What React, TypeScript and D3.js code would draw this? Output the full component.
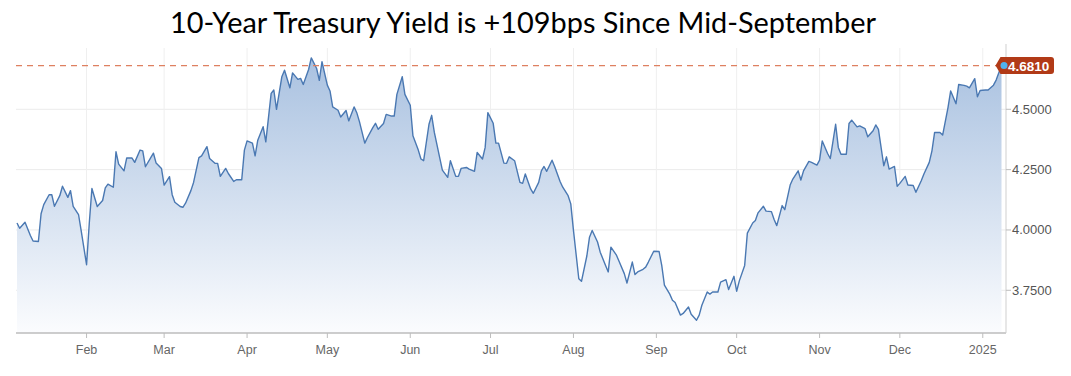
import React from "react";
import * as d3 from "d3";

const dates: string[] = [
  "2024-01-06","2024-01-07","2024-01-09","2024-01-11","2024-01-12","2024-01-14","2024-01-15","2024-01-16","2024-01-18","2024-01-19",
  "2024-01-20","2024-01-22","2024-01-23","2024-01-25","2024-01-26","2024-01-27","2024-01-29","2024-01-30","2024-02-01","2024-02-02",
  "2024-02-03","2024-02-05","2024-02-07","2024-02-08","2024-02-09","2024-02-11","2024-02-12","2024-02-13","2024-02-15","2024-02-16",
  "2024-02-18","2024-02-19","2024-02-21","2024-02-22","2024-02-23","2024-02-25","2024-02-26","2024-02-27","2024-02-29","2024-03-01",
  "2024-03-03","2024-03-04","2024-03-05","2024-03-07","2024-03-08","2024-03-09","2024-03-11","2024-03-12","2024-03-14","2024-03-15",
  "2024-03-17","2024-03-18","2024-03-20","2024-03-21","2024-03-22","2024-03-24","2024-03-25","2024-03-27","2024-03-28","2024-03-30",
  "2024-03-31","2024-04-01","2024-04-03","2024-04-04","2024-04-05","2024-04-07","2024-04-08","2024-04-10","2024-04-11","2024-04-12",
  "2024-04-14","2024-04-15","2024-04-17","2024-04-18","2024-04-20","2024-04-21","2024-04-22","2024-04-24","2024-04-25","2024-04-27",
  "2024-04-28","2024-04-29","2024-05-01","2024-05-02","2024-05-03","2024-05-05","2024-05-06","2024-05-08","2024-05-09","2024-05-11",
  "2024-05-12","2024-05-13","2024-05-15","2024-05-16","2024-05-18","2024-05-19","2024-05-20","2024-05-22","2024-05-23","2024-05-25",
  "2024-05-26","2024-05-27","2024-05-29","2024-05-30","2024-06-01","2024-06-02","2024-06-04","2024-06-05","2024-06-06","2024-06-08",
  "2024-06-09","2024-06-10","2024-06-12","2024-06-13","2024-06-15","2024-06-16","2024-06-18","2024-06-19","2024-06-20","2024-06-22",
  "2024-06-23","2024-06-25","2024-06-26","2024-06-28","2024-06-29","2024-06-30","2024-07-02","2024-07-03","2024-07-04","2024-07-06",
  "2024-07-07","2024-07-08","2024-07-10","2024-07-12","2024-07-13","2024-07-14","2024-07-16","2024-07-17","2024-07-19","2024-07-20",
  "2024-07-21","2024-07-22","2024-07-24","2024-07-25","2024-07-27","2024-07-28","2024-07-30","2024-07-31","2024-08-01","2024-08-03",
  "2024-08-04","2024-08-06","2024-08-07","2024-08-08","2024-08-10","2024-08-11","2024-08-13","2024-08-14","2024-08-15","2024-08-17",
  "2024-08-18","2024-08-20","2024-08-21","2024-08-23","2024-08-24","2024-08-25","2024-08-27","2024-08-28","2024-08-29","2024-08-31",
  "2024-09-02","2024-09-03","2024-09-04","2024-09-06","2024-09-07","2024-09-08","2024-09-10","2024-09-11","2024-09-13","2024-09-14",
  "2024-09-16","2024-09-17","2024-09-18","2024-09-20","2024-09-21","2024-09-22","2024-09-24","2024-09-25","2024-09-27","2024-09-28",
  "2024-09-30","2024-10-01","2024-10-02","2024-10-04","2024-10-05","2024-10-07","2024-10-08","2024-10-09","2024-10-11","2024-10-12",
  "2024-10-14","2024-10-15","2024-10-16","2024-10-18","2024-10-19","2024-10-21","2024-10-22","2024-10-24","2024-10-25","2024-10-26",
  "2024-10-28","2024-10-29","2024-10-31","2024-11-01","2024-11-02","2024-11-04","2024-11-05","2024-11-07","2024-11-08","2024-11-09",
  "2024-11-11","2024-11-12","2024-11-13","2024-11-15","2024-11-16","2024-11-18","2024-11-19","2024-11-21","2024-11-22","2024-11-23",
  "2024-11-25","2024-11-26","2024-11-27","2024-11-29","2024-11-30","2024-12-01","2024-12-03","2024-12-04","2024-12-06","2024-12-07",
  "2024-12-09","2024-12-10","2024-12-12","2024-12-13","2024-12-14","2024-12-16","2024-12-17","2024-12-19","2024-12-20","2024-12-22",
  "2024-12-23","2024-12-25","2024-12-26","2024-12-27","2024-12-29","2024-12-30","2024-12-31","2025-01-02","2025-01-03","2025-01-05",
  "2025-01-06","2025-01-08",
];

const yields: number[] = [
  4.029,4.007,4.032,3.977,3.954,3.952,4.067,4.105,4.146,4.146,
  4.098,4.142,4.181,4.135,4.163,4.098,4.064,3.996,3.856,4.025,
  4.172,4.097,4.122,4.174,4.19,4.177,4.324,4.273,4.245,4.298,
  4.298,4.28,4.331,4.328,4.262,4.3,4.318,4.277,4.255,4.186,
  4.221,4.146,4.115,4.097,4.094,4.111,4.163,4.197,4.3,4.307,
  4.345,4.296,4.276,4.276,4.222,4.255,4.234,4.201,4.208,4.208,
  4.331,4.369,4.36,4.307,4.372,4.428,4.365,4.566,4.58,4.5,
  4.635,4.662,4.589,4.651,4.624,4.628,4.603,4.665,4.713,4.669,
  4.62,4.697,4.6,4.576,4.51,4.496,4.468,4.495,4.452,4.51,
  4.486,4.449,4.36,4.383,4.424,4.442,4.417,4.441,4.479,4.472,
  4.472,4.562,4.635,4.562,4.517,4.39,4.331,4.294,4.287,4.438,
  4.475,4.404,4.3,4.248,4.218,4.287,4.222,4.222,4.255,4.259,
  4.252,4.243,4.321,4.294,4.342,4.486,4.442,4.36,4.36,4.277,
  4.276,4.303,4.287,4.197,4.193,4.232,4.17,4.152,4.197,4.245,
  4.263,4.243,4.289,4.262,4.201,4.177,4.142,4.108,3.998,3.798,
  3.787,3.892,3.97,3.998,3.95,3.908,3.853,3.826,3.929,3.897,
  3.871,3.819,3.78,3.867,3.815,3.826,3.837,3.846,3.867,3.912,
  3.911,3.853,3.771,3.734,3.709,3.699,3.647,3.654,3.681,3.651,
  3.626,3.647,3.688,3.743,3.734,3.743,3.743,3.784,3.794,3.753,
  3.808,3.746,3.789,3.853,3.987,4.029,4.039,4.071,4.098,4.078,
  4.076,4.043,4.018,4.101,4.084,4.186,4.211,4.245,4.207,4.245,
  4.284,4.28,4.269,4.289,4.369,4.317,4.296,4.438,4.342,4.314,
  4.314,4.441,4.455,4.427,4.431,4.42,4.386,4.411,4.435,4.417,
  4.266,4.303,4.252,4.263,4.181,4.193,4.222,4.186,4.184,4.156,
  4.204,4.232,4.28,4.328,4.404,4.404,4.393,4.507,4.576,4.523,
  4.603,4.599,4.596,4.589,4.627,4.552,4.578,4.58,4.58,4.6,
  4.621,4.681,
];

const yTicks: number[] = [3.75, 4.0, 4.25, 4.5];
const monthTicks: string[] = ["2024-02-01","2024-03-01","2024-04-01","2024-05-01","2024-06-01","2024-07-01","2024-08-01","2024-09-01","2024-10-01","2024-11-01","2024-12-01","2025-01-01"];
const monthLabels: string[] = ["Feb","Mar","Apr","May","Jun","Jul","Aug","Sep","Oct","Nov","Dec","2025"];
const title = "10-Year Treasury Yield is +109bps Since Mid-September";
const lastLabel = "4.6810";

const W = 1071, H = 376;
const plotLeft = 16, plotRight = 1006, plotTop = 48, plotBottom = 333;

export default function App() {
  const data = dates.map((d, i) => ({ date: new Date(d + "T00:00:00Z"), value: yields[i] }));
  const x = d3.scaleUtc()
    .domain([data[0].date, data[data.length - 1].date])
    .range([17, 1001.5]);
  const y = d3.scaleLinear().domain([3.573, 4.754]).range([plotBottom, plotTop]);

  const line = d3.line<{ date: Date; value: number }>()
    .x((d) => x(d.date))
    .y((d) => y(d.value));
  const area = d3.area<{ date: Date; value: number }>()
    .x((d) => x(d.date))
    .y0(plotBottom)
    .y1((d) => y(d.value));

  const last = data[data.length - 1];
  const lx = x(last.date);
  const ly = y(last.value);
  const font = "'Liberation Sans', Arial, sans-serif";

  return (
    <svg width={W} height={H} style={{ position: "absolute", left: 0, top: 0, background: "#fff" }}>
      <defs>
        <linearGradient id="fillGrad" gradientUnits="userSpaceOnUse" x1="0" y1={plotTop} x2="0" y2={plotBottom}>
          <stop offset="0" stopColor="#a6bfdf" />
          <stop offset="1" stopColor="#fbfcfe" />
        </linearGradient>
      </defs>
      <text x={523} y={33} textAnchor="middle" fontFamily="Lato, 'Noto Sans', sans-serif" fontSize={29}
        fill="#000" textLength={706} lengthAdjust="spacingAndGlyphs">{title}</text>

      {/* grid */}
      {yTicks.map((t) => (
        <line key={"gy" + t} x1={plotLeft} x2={plotRight} y1={y(t)} y2={y(t)} stroke="#ebebeb" strokeWidth={1} />
      ))}
      {monthTicks.map((m) => {
        const xx = x(new Date(m + "T00:00:00Z"));
        return <line key={"gx" + m} x1={xx} x2={xx} y1={plotTop} y2={plotBottom} stroke="#efefef" strokeWidth={1} />;
      })}

      <path d={area(data) || ""} fill="url(#fillGrad)" />
      <path d={line(data) || ""} fill="none" stroke="#4a78b2" strokeWidth={1.4} strokeLinejoin="round" />

      {/* dashed last-value line */}
      <line x1={plotLeft} x2={lx - 2} y1={ly} y2={ly} stroke="#de8060" strokeWidth={1.4} strokeDasharray="6,5" />

      {/* axes */}
      <line x1={plotLeft} x2={plotRight} y1={plotBottom} y2={plotBottom} stroke="#bdbdbd" strokeWidth={1.5} />
      <line x1={plotRight} x2={plotRight} y1={plotTop - 4} y2={plotBottom} stroke="#cfcfcf" strokeWidth={1} />
      {monthTicks.map((m, i) => {
        const xx = x(new Date(m + "T00:00:00Z"));
        return (
          <g key={"xt" + m}>
            <line x1={xx} x2={xx} y1={plotBottom} y2={plotBottom + 5} stroke="#bdbdbd" strokeWidth={1} />
            <text x={xx} y={354} textAnchor="middle" fontFamily={font} fontSize={12.5} fill="#666">{monthLabels[i]}</text>
          </g>
        );
      })}
      {yTicks.map((t) => (
        <g key={"yt" + t}>
          <line x1={plotRight} x2={plotRight + 5} y1={y(t)} y2={y(t)} stroke="#bdbdbd" strokeWidth={1} />
          <text x={plotRight + 6} y={y(t) + 4.5} fontFamily={font} fontSize={13} fill="#555">{d3.format(".4f")(t)}</text>
        </g>
      ))}

      {/* last value label */}
      <path d={`M${lx - 6},${ly} L${lx - 1},${ly - 8.5} L${1051},${ly - 8.5} Q${1054},${ly - 8.5} ${1054},${ly - 5.5} L${1054},${ly + 5.5} Q${1054},${ly + 8.5} ${1051},${ly + 8.5} L${lx - 1},${ly + 8.5} Z`}
        fill="#b13a17" />
      <circle cx={lx + 2.5} cy={ly} r={3.5} fill="#4fb2f0" />
      <text x={lx + 6.5} y={ly + 5} fontFamily={font} fontSize={13.5} fontWeight="bold" fill="#fff">{lastLabel}</text>
    </svg>
  );
}
